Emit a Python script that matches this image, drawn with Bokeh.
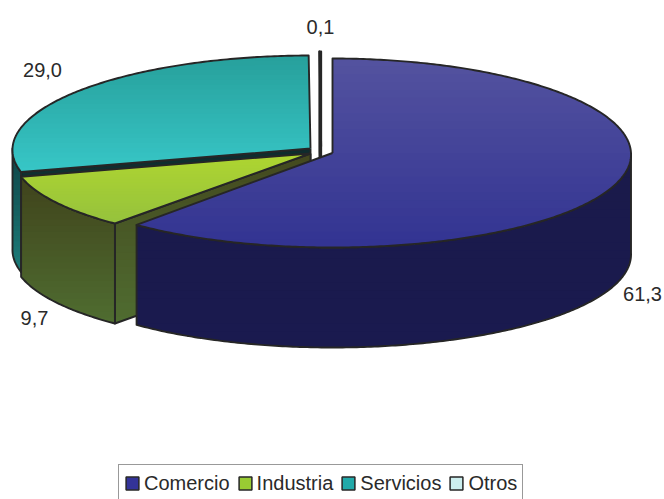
import numpy as np
from bokeh.plotting import figure
from bokeh.models import Legend, LegendItem
from bokeh.core.properties import value
from bokeh.embed import file_html
from bokeh.resources import INLINE

categories = ["Comercio", "Industria", "Servicios", "Otros"]
values = [61.3, 9.7, 29.0, 0.1]
labels = ["61,3", "9,7", "29,0", "0,1"]

# layout / style constants
FONT = "Liberation Sans"
DEPTH = 100
PERSPECTIVE = 0.015
CENTERS = {"Comercio": (332, 152.5, 298.5, 94.5), "Industria": (310, 153, 298, 92),
           "Servicios": (310, 148, 298, 93), "Otros": (320.7, 146, 298, 95)}
TOP_GRAD = {"Comercio": ("#53529f", "#333492"), "Industria": ("#aed531", "#96c23c"),
            "Servicios": ("#27a09c", "#37c6c6"), "Otros": ("#d8eef5", "#d8eef5")}
WALL_GRAD = {"Comercio": ("#1a1a4a", "#1a1a4f"), "Industria": ("#40441c", "#4f6c30"),
             "Servicios": ("#0e4446", "#1c7c7a"), "Otros": ("#8fa4aa", "#8fa4aa")}
RADIAL_GRAD = {"Comercio": ("#1a1a4a", "#1a1a4f"), "Industria": ("#44491f", "#4f6c30"),
               "Servicios": ("#0f2c2d", "#143c3c"), "Otros": ("#8fa4aa", "#8fa4aa")}
SWATCH = ["#333399", "#99cc33", "#22aaaa", "#cceeee"]
LINE = "#262626"
LEG_TXT = "#2a2a2a"
LABEL_POS = {"Comercio": (642, 293), "Industria": (34, 317), "Servicios": (42, 69), "Otros": (320, 26)}

p = figure(width=664, height=499, x_range=(0, 664), y_range=(499, 0),
           output_backend="svg", toolbar_location=None, min_border=0,
           outline_line_color=None, background_fill_color="white")
p.axis.visible = False
p.grid.visible = False

cum = np.cumsum([0] + values) / sum(values) * 360
ANG = {c: (cum[i], cum[i + 1]) for i, c in enumerate(categories)}


def pt(c, a):
    cx, cy, rx, ry = CENTERS[c]
    t = np.radians(a)
    return cx + rx * np.sin(t) * (1 - PERSPECTIVE * np.cos(t)), cy - ry * np.cos(t)


def arc(c, a0, a1):
    n = max(2, int(abs(a1 - a0) * 1.5))
    t = np.linspace(a0, a1, n)
    return [pt(c, a) for a in t]


def clip_below(poly, yc):
    out = []
    for i in range(len(poly)):
        a, b = poly[i], poly[(i + 1) % len(poly)]
        ia, ib = a[1] >= yc, b[1] >= yc
        if ia:
            out.append(a)
        if ia != ib:
            f = (yc - a[1]) / (b[1] - a[1])
            out.append((a[0] + f * (b[0] - a[0]), yc))
    return out


def mix(c0, c1, f):
    a = [int(c0[i:i + 2], 16) for i in (1, 3, 5)]
    b = [int(c1[i:i + 2], 16) for i in (1, 3, 5)]
    return "#%02x%02x%02x" % tuple(round(a[i] + (b[i] - a[i]) * f) for i in range(3))


def shade(poly, grad, outline=True, bands=24):
    ys = [q[1] for q in poly]
    y0, y1 = min(ys), max(ys)
    xs_all, ys_all, cols = [], [], []
    for k in range(bands):
        f = k / (bands - 1)
        c = clip_below(poly, y0 + (y1 - y0) * k / bands)
        if len(c) >= 3:
            xs_all.append([q[0] for q in c])
            ys_all.append([q[1] for q in c])
            cols.append(mix(grad[0], grad[1], f))
    p.patches(xs_all, ys_all, fill_color=cols, line_color=None)
    if outline:
        xx = [q[0] for q in poly] + [poly[0][0]]
        yy = [q[1] for q in poly] + [poly[0][1]]
        p.line(xx, yy, line_color=LINE, line_width=1.9, line_join="round")


def draw_slice(c):
    a0, a1 = ANG[c]
    cx, cy, rx, ry = CENTERS[c]
    # radial wall on the start edge faces the viewer when it lies on the left half
    if a0 > 180:
        e = pt(c, a0)
        shade([(cx, cy), e, (e[0], e[1] + DEPTH), (cx, cy + DEPTH)], RADIAL_GRAD[c])
    # outer wall: only the front half (90..270 degrees) can be seen
    w0, w1 = max(a0, 90), min(a1, 270)
    if w1 > w0:
        a = arc(c, w0, w1)
        poly = a + [(q[0], q[1] + DEPTH) for q in reversed(a)]
        shade(poly, WALL_GRAD[c])
    # top face
    top = [(cx, cy)] + arc(c, a0, a1)
    shade(top, TOP_GRAD[c])


for c in ["Otros", "Servicios", "Industria", "Comercio"]:
    draw_slice(c)

for c, lab in zip(categories, labels):
    x, y = LABEL_POS[c]
    p.text([x], [y], text=[lab], text_font=value(FONT), text_font_size="20px",
           text_color=LEG_TXT, text_align="center", text_baseline="middle")

items = []
for c, col in zip(categories, SWATCH):
    r = p.quad(left=[float("nan")], right=[float("nan")], top=[float("nan")], bottom=[float("nan")],
               fill_color=col, line_color=LINE, line_width=1.5)
    items.append(LegendItem(label=c, renderers=[r]))

legend = Legend(items=items, orientation="horizontal", location=(118, -3), margin=0,
                padding=5, spacing=7, label_standoff=4, glyph_width=16, glyph_height=16,
                label_text_font=FONT, label_text_font_size="20px", label_text_color=LEG_TXT,
                border_line_color="#333333", border_line_width=1.2, background_fill_alpha=1,
                label_height=26)
p.add_layout(legend, "center")

open("out.html", "w").write(file_html(p, INLINE))
